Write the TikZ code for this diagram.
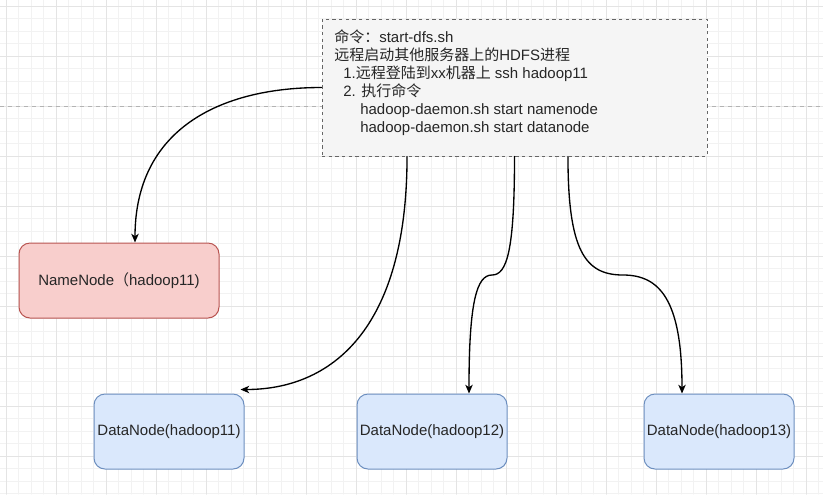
\documentclass[tikz,border=0pt]{standalone}
\usepackage{fontspec}
\setmainfont{Liberation Sans}
\newfontfamily\cjk{Noto Sans CJK SC}
\usetikzlibrary{arrows.meta}
\definecolor{gridmajor}{HTML}{E4E4E4}
\definecolor{gridminor}{HTML}{F2F2F2}
\definecolor{notefill}{HTML}{F5F5F5}
\definecolor{noteline}{HTML}{666666}
\definecolor{sepline}{HTML}{B3B3B3}
\definecolor{namefill}{HTML}{F8CECC}
\definecolor{nameline}{HTML}{B85450}
\definecolor{datafill}{HTML}{DAE8FC}
\definecolor{dataline}{HTML}{6C8EBF}
\tikzset{
  txt/.style={font=\fontsize{11.25pt}{13.5pt}\selectfont,text=black!85},
  notebox/.style={draw=noteline,fill=notefill,line width=0.75pt,dash pattern=on 2.5pt off 2.5pt,line cap=butt,minimum width=288.75pt,minimum height=102.75pt,inner sep=0pt},
  namebox/.style={txt,draw=nameline,fill=namefill,line width=0.75pt,rounded corners=8.25pt,minimum width=150pt,minimum height=56.25pt,inner sep=0pt},
  databox/.style={txt,draw=dataline,fill=datafill,line width=0.75pt,rounded corners=8.25pt,minimum width=112.5pt,minimum height=56.25pt,inner sep=0pt},
  link/.style={->,line width=1pt,black}
}

\begin{document}
\begin{tikzpicture}[line cap=round,line join=round,>={Stealth[length=6.5pt,width=5.5pt,inset=1.8pt]},x=0.75pt,y=-0.75pt]
\useasboundingbox (0,0) rectangle (823,494);
\fill[white] (0,0) rectangle (823,494);
\foreach \i in {0,...,66} \draw[gridminor,line width=0.75pt] (6.3+12.5*\i,0) -- (6.3+12.5*\i,494);
\foreach \i in {0,...,39} \draw[gridminor,line width=0.75pt] (0,6.3+12.5*\i) -- (823,6.3+12.5*\i);
\foreach \i in {0,...,16} \draw[gridmajor,line width=0.75pt] (6.3+50*\i,0) -- (6.3+50*\i,494);
\foreach \i in {0,...,9} \draw[gridmajor,line width=0.75pt] (0,6.3+50*\i) -- (823,6.3+50*\i);
\draw[sepline,line width=0.75pt,line cap=butt,dash pattern=on 3pt off 3pt] (0,106) -- (823,106);

\node[notebox] (cmd) at (514.5,87.5) {};
\node[txt,anchor=north west,align=left,inner sep=0pt] (cmdtext) at (334,29) {%
{\cjk 命令：}start-dfs.sh\\
{\cjk 远程启动其他服务器上的}HDFS{\cjk 进程}\\
\hspace*{6.75pt}1.{\cjk 远程登陆到}xx{\cjk 机器上} ssh hadoop11\\
\hspace*{6.75pt}2. {\cjk 执行命令}\\
\hspace*{19.5pt}hadoop-daemon.sh start namenode\\
\hspace*{19.5pt}hadoop-daemon.sh start datanode};

\node[namebox] (nn) at (119,280.5) {NameNode{\cjk （}hadoop11)};
\node[databox] (dn1) at (169,431.5) {DataNode(hadoop11)};
\node[databox] (dn2) at (432,431.5) {DataNode(hadoop12)};
\node[databox] (dn3) at (719,431.5) {DataNode(hadoop13)};

\coordinate (bend2) at (492,275);
\coordinate (bend3) at (623,275);

\draw[link] (cmd.west) .. controls +(-102,0) and +(0,-113) .. ([xshift=12pt]nn.north);
\draw[link] ([xshift=-80.6pt]cmd.south) .. controls +(0,174) and +(90,0) .. ([xshift=-3pt,yshift=3pt]dn1.north east);
\draw[link] (cmd.south) .. controls +(0,94) and +(15,0) .. (bend2) .. controls +(-15,0) and +(0,-93) .. ([xshift=27.75pt]dn2.north);
\draw[link] ([xshift=40.1pt]cmd.south) .. controls +(0,94) and +(-38,0) .. (bend3) .. controls +(37,0) and +(0,-93) .. ([xshift=-27.75pt]dn3.north);
\end{tikzpicture}
\end{document}
